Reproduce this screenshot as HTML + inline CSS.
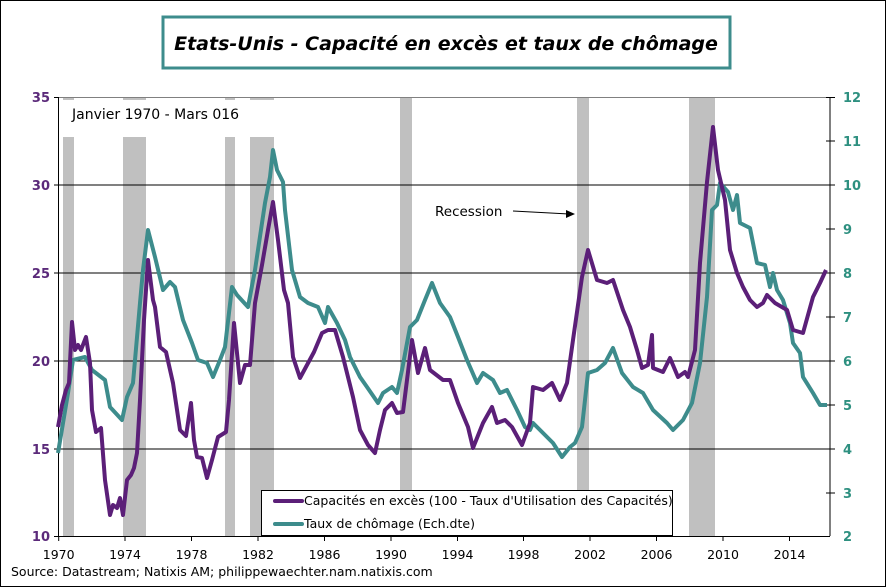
<!DOCTYPE html>
<html><head><meta charset="utf-8"><style>
body{margin:0;background:#fff}
svg{display:block;font-family:"DejaVu Sans","Liberation Sans",sans-serif}
</style></head><body>
<svg width="886" height="587" viewBox="0 0 886 587" xmlns="http://www.w3.org/2000/svg">
<rect x="0.5" y="0.5" width="885" height="586" fill="#fff" stroke="#000"/>
<rect x="163" y="17" width="567" height="51" fill="#fff" stroke="#3d8c8c" stroke-width="3"/>
<text x="446" y="50" text-anchor="middle" font-size="19" font-weight="bold" font-style="italic">Etats-Unis - Capacité en excès et taux de chômage</text>
<g fill="#c0c0c0">
<rect x="63" y="97" width="11" height="439"/><rect x="123" y="97" width="23" height="439"/>
<rect x="225" y="97" width="10" height="439"/><rect x="250" y="97" width="24" height="439"/>
<rect x="400" y="97" width="12" height="439"/><rect x="577" y="97" width="12" height="439"/>
<rect x="689" y="97" width="26" height="439"/>
</g>
<rect x="62" y="100" width="214" height="37" fill="#fff"/>
<line x1="59" y1="97.5" x2="830" y2="97.5" stroke="#808080"/>
<g stroke="#000" stroke-width="1">
<line x1="59" y1="185" x2="830" y2="185"/><line x1="59" y1="273" x2="830" y2="273"/>
<line x1="59" y1="361" x2="830" y2="361"/><line x1="59" y1="449" x2="830" y2="449"/>
<line x1="58.5" y1="97" x2="58.5" y2="536"/><line x1="830" y1="97" x2="830" y2="536"/>
<line x1="54" y1="536.5" x2="830" y2="536.5"/>
</g>
<g stroke="#000">
<line x1="54" y1="97.5" x2="59" y2="97.5"/><line x1="54" y1="185" x2="59" y2="185"/><line x1="54" y1="273" x2="59" y2="273"/><line x1="54" y1="361" x2="59" y2="361"/><line x1="54" y1="449" x2="59" y2="449"/>
<line x1="826" y1="97.5" x2="835" y2="97.5"/><line x1="826" y1="141" x2="835" y2="141"/><line x1="826" y1="185" x2="835" y2="185"/><line x1="826" y1="229" x2="835" y2="229"/><line x1="826" y1="273" x2="835" y2="273"/><line x1="826" y1="317" x2="835" y2="317"/><line x1="826" y1="361" x2="835" y2="361"/><line x1="826" y1="405" x2="835" y2="405"/><line x1="826" y1="449" x2="835" y2="449"/><line x1="826" y1="493" x2="835" y2="493"/>
<line x1="58.7" y1="536" x2="58.7" y2="541"/><line x1="125" y1="536" x2="125" y2="541"/><line x1="191.5" y1="536" x2="191.5" y2="541"/><line x1="258" y1="536" x2="258" y2="541"/><line x1="324.5" y1="536" x2="324.5" y2="541"/><line x1="391" y1="536" x2="391" y2="541"/><line x1="457.5" y1="536" x2="457.5" y2="541"/><line x1="523.5" y1="536" x2="523.5" y2="541"/><line x1="590" y1="536" x2="590" y2="541"/><line x1="656.5" y1="536" x2="656.5" y2="541"/><line x1="723" y1="536" x2="723" y2="541"/><line x1="789.5" y1="536" x2="789.5" y2="541"/>
</g>
<g font-size="13" font-weight="bold" fill="#5b2a7a" text-anchor="end">
<text x="50" y="102">35</text><text x="50" y="190">30</text><text x="50" y="278">25</text><text x="50" y="366">20</text><text x="50" y="454">15</text><text x="50" y="541">10</text>
</g>
<g font-size="13" font-weight="bold" fill="#2e9080">
<text x="843" y="102">12</text><text x="843" y="146">11</text><text x="843" y="190">10</text><text x="843" y="234">9</text><text x="843" y="278">8</text><text x="843" y="322">7</text><text x="843" y="366">6</text><text x="843" y="410">5</text><text x="843" y="454">4</text><text x="843" y="498">3</text><text x="843" y="541">2</text>
</g>
<g font-size="12.5" text-anchor="middle">
<text x="58.7" y="559">1970</text><text x="125" y="559">1974</text><text x="191.5" y="559">1978</text><text x="258" y="559">1982</text><text x="324.5" y="559">1986</text><text x="391" y="559">1990</text><text x="457.5" y="559">1994</text><text x="523.5" y="559">1998</text><text x="590" y="559">2002</text><text x="656.5" y="559">2006</text><text x="723" y="559">2010</text><text x="789.5" y="559">2014</text>
</g>
<text x="11" y="576" font-size="12.5">Source: Datastream; Natixis AM; philippewaechter.nam.natixis.com</text>
<text x="72" y="119" font-size="14">Janvier 1970 - Mars 016</text>
<text x="435" y="216" font-size="13.5">Recession</text>
<line x1="513" y1="211" x2="569" y2="214" stroke="#000"/><polygon points="575,214 566,210 566,218" fill="#000"/>
<polyline fill="none" stroke="#3d8c8c" stroke-width="4" stroke-linejoin="round" points="58,453 68,393 73,360 85,357 92,370 105,380 110,407 122,420 127,397 133,383 140,303 143,270 148,230 155,257 163,290 170,282 175,287 183,320 192,343 198,360 207,363 213,377 220,360 225,347 232,287 237,295 248,307 255,270 265,203 270,177 273,150 277,170 283,182 285,210 292,270 300,297 308,303 318,307 325,323 328,307 337,323 345,340 350,357 360,377 367,387 378,403 383,393 392,387 397,393 402,370 410,327 417,320 425,300 432,283 440,303 450,317 458,337 467,360 477,383 483,373 493,380 500,393 507,390 517,410 525,427 530,430 533,423 543,433 553,443 562,457 570,447 575,443 582,427 588,373 597,370 605,363 613,348 622,373 633,387 643,393 653,410 667,423 673,430 683,420 692,403 700,363 707,297 712,210 717,205 720,183 728,192 733,210 737,195 740,223 750,228 757,263 765,265 770,287 773,273 777,290 783,300 790,323 793,343 800,353 803,377 813,393 820,405 827,405"/>
<polyline fill="none" stroke="#5b1f78" stroke-width="4" stroke-linejoin="round" points="58,427 62,405 66,390 69,383 72,322 75,350 78,345 81,350 86,337 90,363 92,410 96,432 101,428 105,480 110,515 113,505 117,508 120,498 123,515 127,480 131,475 134,468 137,453 140,400 144,320 148,260 153,300 155,307 160,347 166,352 173,383 180,430 186,436 191,403 194,440 197,457 202,458 207,478 212,460 218,437 226,432 229,400 234,323 240,383 245,365 250,365 255,303 262,265 268,230 273,202 278,240 284,290 288,303 293,357 300,378 307,365 314,352 322,333 328,330 335,330 343,357 353,397 360,430 368,445 375,453 380,430 385,410 392,403 397,413 403,412 412,340 418,373 425,348 430,370 443,380 450,380 458,403 468,427 473,448 483,423 492,407 497,423 505,420 512,427 522,445 530,423 533,387 543,390 552,383 560,400 567,383 573,340 582,277 588,250 597,280 607,283 613,280 623,310 630,327 637,350 642,368 648,365 652,335 653,368 663,372 670,358 678,377 685,372 688,377 695,350 700,263 707,182 713,127 718,170 725,200 730,250 737,273 743,287 750,300 757,307 763,303 767,295 775,303 787,310 793,330 803,333 813,297 820,283 826,270"/>
<rect x="261.5" y="490.5" width="411" height="45" fill="#fff" stroke="#000"/>
<line x1="275" y1="501" x2="302" y2="501" stroke="#5b1f78" stroke-width="4" stroke-linecap="round"/>
<line x1="275" y1="524" x2="302" y2="524" stroke="#3d8c8c" stroke-width="4" stroke-linecap="round"/>
<g font-size="12.5"><text x="304" y="505">Capacités en excès (100 - Taux d'Utilisation des Capacités)</text><text x="304" y="528">Taux de chômage (Ech.dte)</text></g>
</svg>
</body></html>
